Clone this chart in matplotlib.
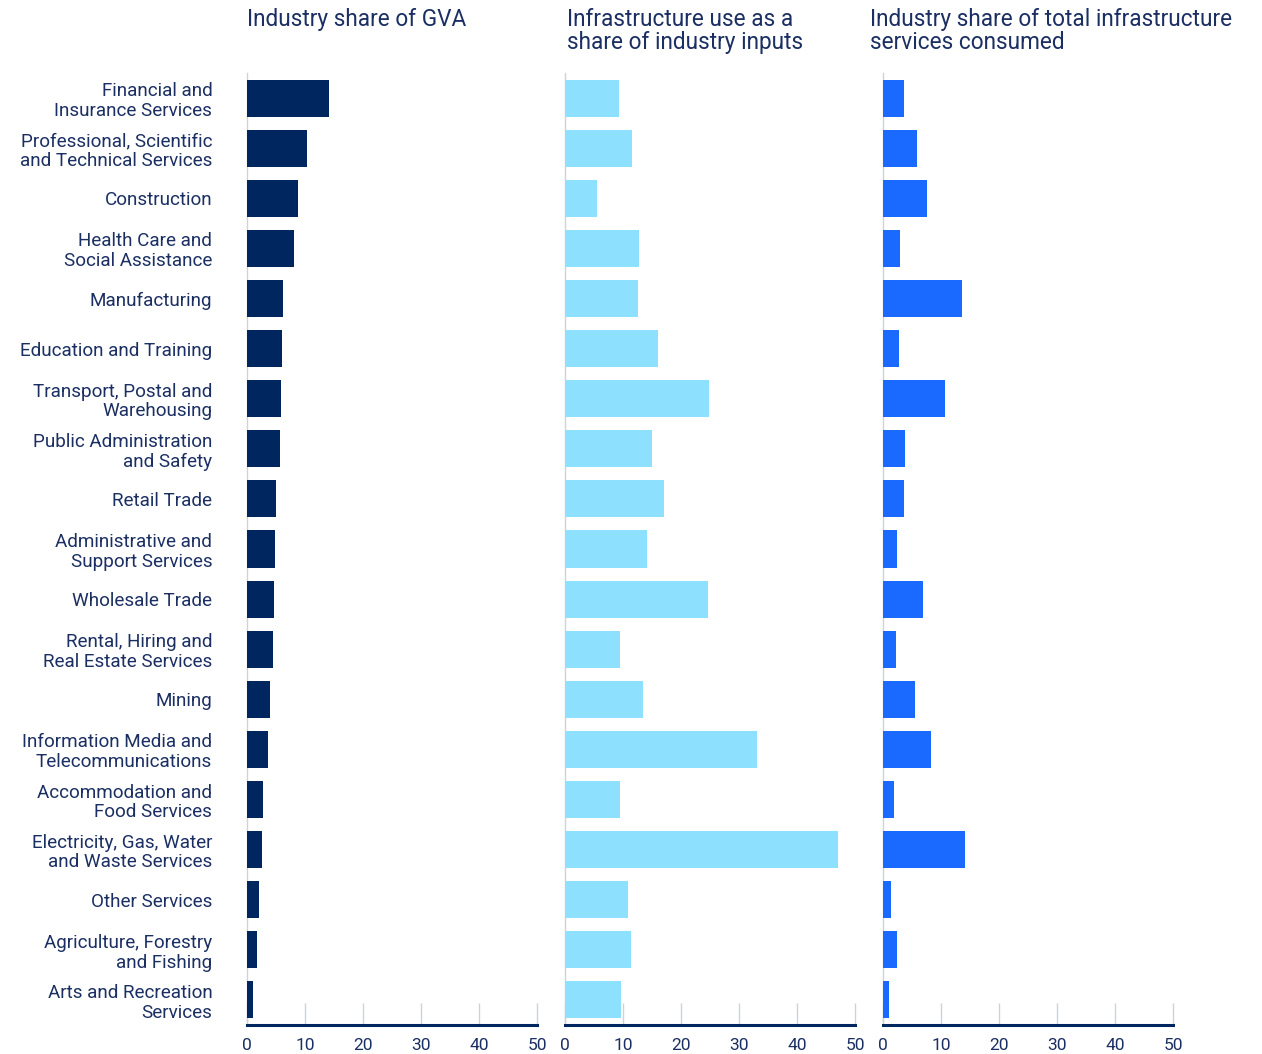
import matplotlib.pyplot as plt

# Industries, top to bottom
industries = [
    "Financial and\nInsurance Services",
    "Professional, Scientific\nand Technical Services",
    "Construction",
    "Health Care and\nSocial Assistance",
    "Manufacturing",
    "Education and Training",
    "Transport, Postal and\nWarehousing",
    "Public Administration\nand Safety",
    "Retail Trade",
    "Administrative and\nSupport Services",
    "Wholesale Trade",
    "Rental, Hiring and\nReal Estate Services",
    "Mining",
    "Information Media and\nTelecommunications",
    "Accommodation and\nFood Services",
    "Electricity, Gas, Water\nand Waste Services",
    "Other Services",
    "Agriculture, Forestry\nand Fishing",
    "Arts and Recreation\nServices",
]

# Values (%)
gva_share = [14.1, 10.3, 8.8, 8.1, 6.2, 6.0, 5.9, 5.7, 5.0, 4.8,
             4.7, 4.5, 4.0, 3.6, 2.8, 2.6, 2.1, 1.7, 1.0]
infra_input_share = [9.3, 11.6, 5.5, 12.8, 12.6, 16.0, 24.8, 15.0, 17.1, 14.1,
                     24.7, 9.5, 13.4, 33.1, 9.5, 47.1, 10.9, 11.4, 9.7]
infra_consumed_share = [3.6, 5.9, 7.6, 2.9, 13.7, 2.8, 10.7, 3.8, 3.6, 2.4,
                        6.9, 2.2, 5.5, 8.3, 1.9, 14.2, 1.4, 2.4, 1.0]

titles = ["Industry share of GVA",
          "Infrastructure use as a\nshare of industry inputs",
          "Industry share of total infrastructure\nservices consumed"]
colors = ["#00265f", "#8ee0ff", "#1a6aff"]
xticks = [0, 10, 20, 30, 40, 50]

text_col = "#1b2f63"
plt.rcParams['font.family'] = ['Roboto', 'DejaVu Sans']

W, H = 1262, 1054
fig = plt.figure(figsize=(W / 100, H / 100), dpi=100)

lefts = [247, 565, 883]
title_x = [247, 567, 870]
ax_w = 290
ax_top, ax_bot = 73, 1025
series = [gva_share, infra_input_share, infra_consumed_share]

for i, (left, vals, col, title) in enumerate(zip(lefts, series, colors, titles)):
    ax = fig.add_axes([left / W, 1 - ax_bot / H, ax_w / W, (ax_bot - ax_top) / H])
    ypos = list(range(len(industries)))
    ax.barh(ypos, vals, height=0.74, color=col, zorder=3)
    ax.set_xlim(0, 50)
    ax.set_ylim(len(industries) - 0.5, -0.5)
    ax.set_xticks(xticks)
    ax.tick_params(axis='x', direction='in', length=16, width=1, color='#cfd3d8',
                   labelcolor=text_col, labelsize=12.5, pad=9)
    ax.set_yticks(ypos)
    if i == 0:
        ax.set_yticklabels(industries, fontsize=13.6, color=text_col, linespacing=1.12)
        ax.tick_params(axis='y', length=0, pad=25)
    else:
        ax.set_yticklabels([])
        ax.tick_params(axis='y', length=0)
    for s in ['top', 'right']:
        ax.spines[s].set_visible(False)
    ax.spines['left'].set_color('#cfd3d8')
    ax.spines['left'].set_linewidth(1)
    ax.spines['bottom'].set_color('#00265f')
    ax.spines['bottom'].set_linewidth(2.2)
    ax.spines['bottom'].set_zorder(4)
    fig.text(title_x[i] / W, 1 - 8 / H, title, ha='left', va='top', fontsize=16.3,
             color=text_col, linespacing=1.0)

fig.savefig("out.png", dpi=100)
